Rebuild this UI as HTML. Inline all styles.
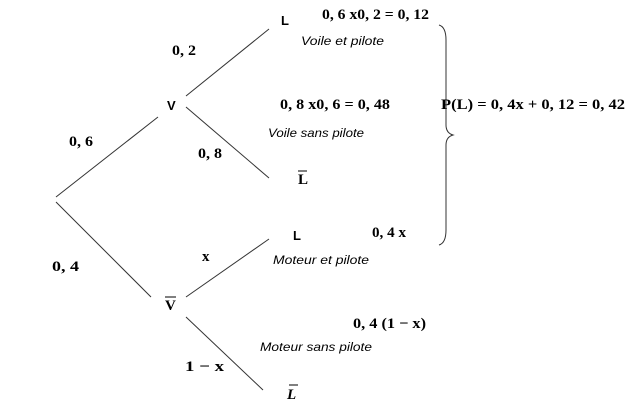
<!DOCTYPE html>
<html><head><meta charset="utf-8"><style>
html,body{margin:0;padding:0;background:#fff;}
svg{display:block;}
.m{font-family:"Liberation Serif",serif;font-weight:bold;font-size:15px;fill:#000;}
.s{font-family:"Liberation Sans",sans-serif;font-weight:bold;font-size:13px;fill:#000;}
.i{font-family:"Liberation Sans",sans-serif;font-style:italic;font-size:12px;fill:#000;}
</style></head><body>
<svg width="630" height="406" viewBox="0 0 630 406" xmlns="http://www.w3.org/2000/svg">
<g stroke="#333" stroke-width="1" fill="none">
<line x1="56" y1="197" x2="158" y2="117"/>
<line x1="56" y1="202" x2="151" y2="297"/>
<line x1="186" y1="96" x2="269" y2="29"/>
<line x1="186" y1="107" x2="269" y2="178"/>
<line x1="186" y1="297" x2="269" y2="239"/>
<line x1="186" y1="317" x2="263" y2="390"/>
<path d="M439 25 Q446 27 446 40 L446 125 Q446 133 453 135 Q446 137 446 145 L446 230 Q446 243 439 245"/>
</g>
<text class="s" x="281" y="25">L</text>
<text class="m" x="322" y="19" textLength="107" lengthAdjust="spacingAndGlyphs">0, 6 x0, 2 = 0, 12</text>
<text class="i" x="301" y="45" textLength="83" lengthAdjust="spacingAndGlyphs">Voile et pilote</text>
<text class="m" x="172" y="55" textLength="24" lengthAdjust="spacingAndGlyphs">0, 2</text>
<text class="s" x="167" y="110">V</text>
<text class="m" x="280" y="109" textLength="110" lengthAdjust="spacingAndGlyphs">0, 8 x0, 6 = 0, 48</text>
<text class="i" x="268" y="137" textLength="96" lengthAdjust="spacingAndGlyphs">Voile sans pilote</text>
<text class="m" x="69" y="146" textLength="24" lengthAdjust="spacingAndGlyphs">0, 6</text>
<text class="m" x="198" y="158" textLength="24" lengthAdjust="spacingAndGlyphs">0, 8</text>
<text class="m" x="298" y="184">L</text><line x1="298" y1="171" x2="307" y2="171" stroke="#000"/>
<text class="m" x="441" y="109" textLength="184" lengthAdjust="spacingAndGlyphs">P(L) = 0, 4x + 0, 12 = 0, 42</text>
<text class="s" x="293" y="240">L</text>
<text class="m" x="372" y="237" textLength="34" lengthAdjust="spacingAndGlyphs">0, 4 x</text>
<text class="m" x="202" y="261">x</text>
<text class="i" x="273" y="264" textLength="96" lengthAdjust="spacingAndGlyphs">Moteur et pilote</text>
<text class="m" x="52" y="271" textLength="27" lengthAdjust="spacingAndGlyphs">0, 4</text>
<text class="m" x="165" y="310">V</text><line x1="165" y1="297" x2="176" y2="297" stroke="#000"/>
<text class="m" x="353" y="328" textLength="73" lengthAdjust="spacingAndGlyphs">0, 4 (1 − x)</text>
<text class="i" x="260" y="351" textLength="112" lengthAdjust="spacingAndGlyphs">Moteur sans pilote</text>
<text class="m" x="185" y="371" textLength="39" lengthAdjust="spacingAndGlyphs">1 − x</text>
<text class="m" x="287" y="399" font-style="italic">L</text><line x1="289" y1="385" x2="298" y2="385" stroke="#000"/>
</svg>
</body></html>
